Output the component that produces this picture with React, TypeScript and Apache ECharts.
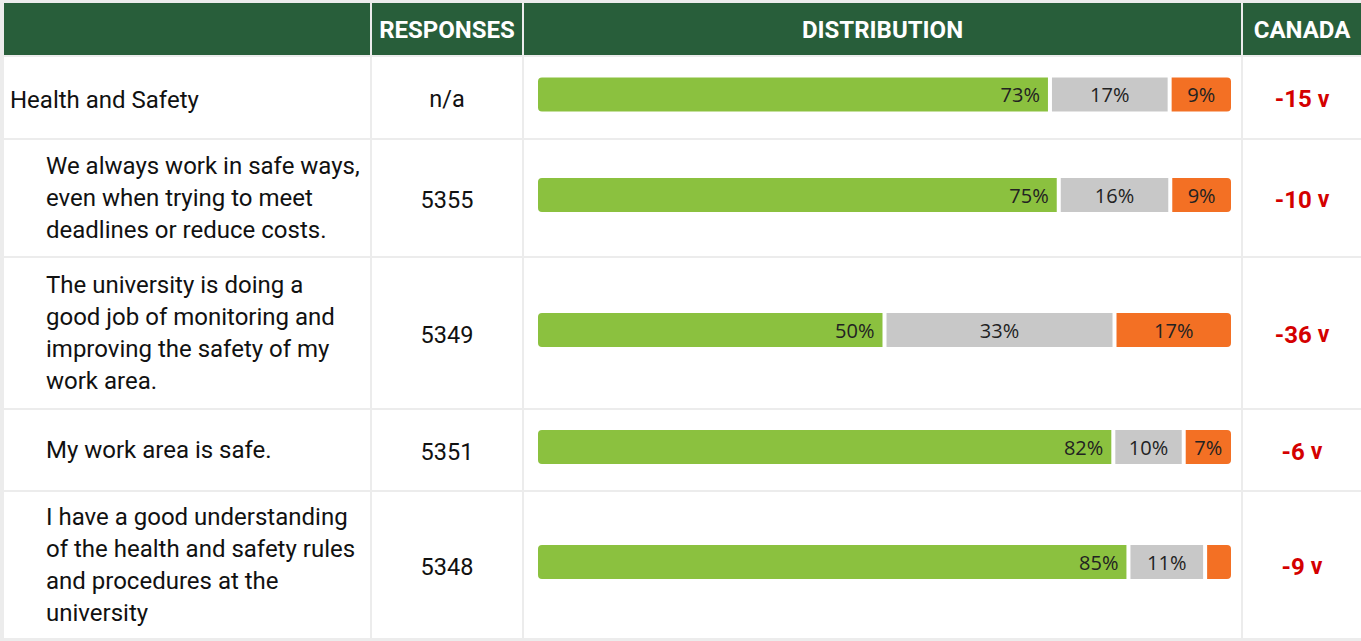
import React, { useEffect, useRef } from "react";
import * as echarts from "echarts";

const headers = ["", "RESPONSES", "DISTRIBUTION", "CANADA"];
const questions = [
  "Health and Safety",
  "We always work in safe ways,\neven when trying to meet\ndeadlines or reduce costs.",
  "The university is doing a\ngood job of monitoring and\nimproving the safety of my\nwork area.",
  "My work area is safe.",
  "I have a good understanding\nof the health and safety rules\nand procedures at the\nuniversity",
];
const isSubItem = [false, true, true, true, true];
const responses = ["n/a", "5355", "5349", "5351", "5348"];
const favourable = [73, 75, 50, 82, 85];
const neutral = [17, 16, 33, 10, 11];
const unfavourable = [9, 9, 17, 7, 4];
const canadaDiff = [-15, -10, -36, -6, -9];

// layout (pixels)
const COLS: [number, number][] = [
  [4, 370],
  [372, 522],
  [524, 1241],
  [1243, 1361],
];
const HEADER: [number, number] = [3, 55];
const ROWS: [number, number][] = [
  [57, 138],
  [140, 256],
  [258, 408],
  [410, 490],
  [492, 638],
];
const BAR_LEFT = 536;
const BAR_WIDTH = 697;

export default function App() {
  const ref = useRef<HTMLDivElement>(null);
  useEffect(() => {
    document.body.style.margin = "0";
    const chart = echarts.init(ref.current!, null, { renderer: "svg" });
    const graphic: any[] = [];
    graphic.push({
      type: "rect",
      z: 0,
      shape: { x: 0, y: 0, width: 1361, height: 641 },
      style: { fill: "#ececec" },
    });
    COLS.forEach((c, ci) => {
      graphic.push({
        type: "rect",
        z: 0,
        shape: { x: c[0], y: HEADER[0], width: c[1] - c[0], height: HEADER[1] - HEADER[0] },
        style: { fill: "#285e3a" },
      });
      if (headers[ci]) {
        graphic.push({
          type: "text",
          z: 1,
          x: (c[0] + c[1]) / 2,
          y: (HEADER[0] + HEADER[1]) / 2 + 1,
          style: {
            text: headers[ci],
            fill: "#ffffff",
            fontFamily: "Roboto",
            fontWeight: "bold",
            fontSize: 24,
            align: "center",
            verticalAlign: "middle",
            textAlign: "center",
            textVerticalAlign: "middle",
          },
        });
      }
      ROWS.forEach((r) => {
        graphic.push({
          type: "rect",
          z: 0,
          shape: { x: c[0], y: r[0], width: c[1] - c[0], height: r[1] - r[0] },
          style: { fill: "#ffffff" },
        });
      });
    });

    const grids: any[] = [];
    const xAxes: any[] = [];
    const yAxes: any[] = [];
    const series: any[] = [];
    const labelBase = {
      show: true,
      fontFamily: "Open Sans",
      fontSize: 20,
      color: "#222222",
      formatter: (p: any) => (p.value >= 6 ? p.value + "%" : ""),
    };

    ROWS.forEach((r, i) => {
      const cy = (r[0] + r[1]) / 2;
      graphic.push({
        type: "text",
        z: 1,
        x: isSubItem[i] ? 46 : 10,
        y: cy + (i === 0 ? 2 : 0),
        style: {
          text: questions[i],
          fill: "#111111",
          fontFamily: "Roboto",
          fontSize: 24,
          lineHeight: 32,
          align: "left",
          verticalAlign: "middle",
          textAlign: "left",
          textVerticalAlign: "middle",
        },
      });
      graphic.push({
        type: "text",
        z: 1,
        x: (COLS[1][0] + COLS[1][1]) / 2,
        y: cy + 1.5,
        style: {
          text: responses[i],
          fill: "#111111",
          fontFamily: "Roboto",
          fontSize: 23.5,
          align: "center",
          verticalAlign: "middle",
          textAlign: "center",
          textVerticalAlign: "middle",
        },
      });
      graphic.push({
        type: "text",
        z: 1,
        x: (COLS[3][0] + COLS[3][1]) / 2,
        y: cy + 1.5,
        style: {
          text: "{n|" + canadaDiff[i] + " }{v|v}",
          align: "center",
          verticalAlign: "middle",
          textAlign: "center",
          textVerticalAlign: "middle",
          rich: {
            n: { fontFamily: "Roboto", fontWeight: "bold", fontSize: 24, fill: "#d40000", color: "#d40000" },
            v: { fontFamily: "Roboto", fontWeight: "bold", fontSize: 23, fill: "#d40000", color: "#d40000" },
          },
        },
      });

      const total = favourable[i] + neutral[i] + unfavourable[i];
      grids.push({ left: BAR_LEFT, width: BAR_WIDTH, top: cy - 3 - 19, height: 38 });
      xAxes.push({ type: "value", gridIndex: i, min: 0, max: total, show: false });
      yAxes.push({ type: "category", gridIndex: i, data: [""], show: false });
      const common = {
        type: "bar",
        stack: "s" + i,
        xAxisIndex: i,
        yAxisIndex: i,
        barWidth: 38,
      };
      series.push({
        ...common,
        name: "Favourable",
        data: [favourable[i]],
        itemStyle: { color: "#8bc13f", borderColor: "#ffffff", borderWidth: 2, borderRadius: [5, 0, 0, 5] },
        label: { ...labelBase, position: "insideRight", distance: 10 },
      });
      series.push({
        ...common,
        name: "Neutral",
        data: [neutral[i]],
        itemStyle: { color: "#c8c8c8", borderColor: "#ffffff", borderWidth: 2 },
        label: { ...labelBase, position: "inside" },
      });
      series.push({
        ...common,
        name: "Unfavourable",
        data: [unfavourable[i]],
        itemStyle: { color: "#f37024", borderColor: "#ffffff", borderWidth: 2, borderRadius: [0, 5, 5, 0] },
        label: { ...labelBase, position: "inside" },
      });
    });

    chart.setOption({
      animation: false,
      grid: grids,
      xAxis: xAxes,
      yAxis: yAxes,
      series,
      graphic: { elements: graphic },
    });
    return () => chart.dispose();
  }, []);
  return <div ref={ref} style={{ width: 1361, height: 641 }} />;
}
